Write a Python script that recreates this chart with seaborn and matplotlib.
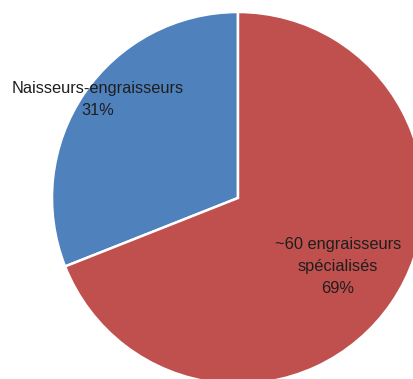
import matplotlib
matplotlib.use("Agg")
import matplotlib.pyplot as plt
import seaborn as sns

categories = ["Naisseurs-engraisseurs", "~60 engraisseurs\nspécialisés"]
values = [31, 69]
colors = ["#4F81BD", "#C0504D"]

sns.set_style("white")
plt.rcParams['font.family'] = ['Liberation Sans', 'DejaVu Sans']

W, H = 414, 379
fig = plt.figure(figsize=(W / 100, H / 100), dpi=100)
cx, cy, r = 238, 198, 186
ax = fig.add_axes([(cx - r) / W, (H - cy - r) / H, 2 * r / W, 2 * r / H])
ax.pie(values, colors=colors, startangle=90, counterclock=True, radius=1,
       wedgeprops=dict(edgecolor="white", linewidth=1.8))
ax.set_xlim(-1, 1)
ax.set_ylim(-1, 1)
ax.set_aspect("equal")
ax.axis("off")

label_pos = [(-0.753, 0.53), (0.538, -0.368)]
for cat, v, (x, y) in zip(categories, values, label_pos):
    ax.text(x, y, f"{cat}\n{v}%", ha="center", va="center", fontsize=11.8,
            color="#1e1e1e", linespacing=1.6)

fig.savefig("out.png", dpi=100)
